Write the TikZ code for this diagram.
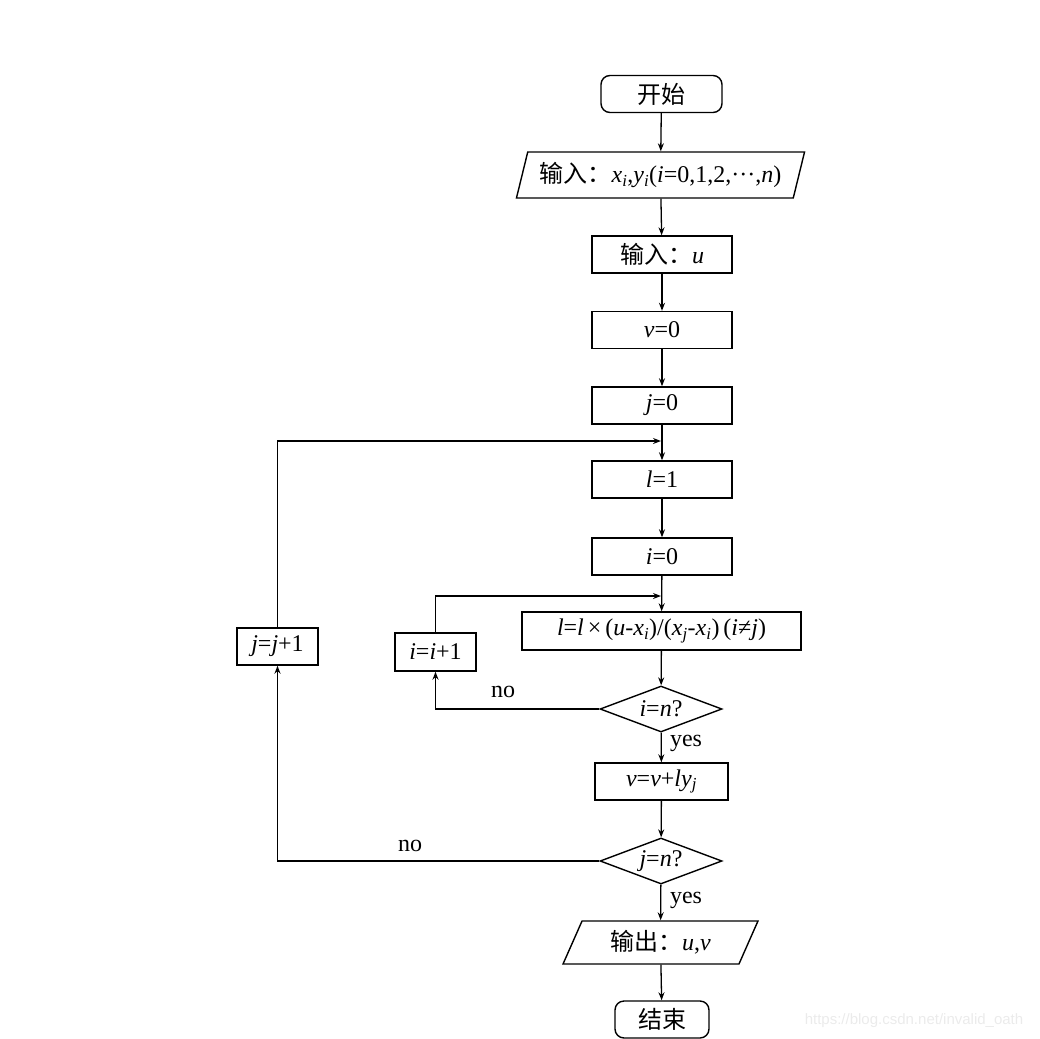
\documentclass[tikz,border=0pt]{standalone}
\usepackage{fontspec}
\setmainfont{Liberation Serif}
\newfontfamily\cjk{Noto Sans CJK SC}
\newfontfamily\wmfont{Liberation Sans}
\usetikzlibrary{shapes.geometric,arrows.meta}
\newcommand{\iv}[1]{\textit{#1}}
\begin{document}
\begin{tikzpicture}[x=1pt,y=-1pt,
  every node/.style={font=\fontsize{24}{26}\selectfont, inner sep=0pt, line width=1.4pt},
  box/.style={draw, rectangle, minimum width=140pt, minimum height=37pt},
  term/.style={draw, rectangle, rounded corners=9pt, minimum height=37pt},
  io/.style={draw, trapezium, trapezium stretches=true},
  dec/.style={draw, diamond, aspect=2.65, minimum width=122pt, minimum height=46pt},
  conn/.style={line width=1.3pt, -{Stealth[length=8pt,width=6pt]}},
  lab/.style={font=\fontsize{24}{26}\selectfont}]
\useasboundingbox (0,0) rectangle (1039,1039);
\node[term, minimum width=121pt] (start) at (661.5,94) {\cjk 开始};
\node[io, trapezium left angle=68, trapezium right angle=112, minimum width=289pt, minimum height=46pt] (in1) at (660.5,175) {\cjk 输入：\rmfamily\iv{x}\textsubscript{\iv{i}},\iv{y}\textsubscript{\iv{i}}(\iv{i}=0,1,2,\textperiodcentered\textperiodcentered\textperiodcentered,\iv{n})};
\node[box] (inu) at (662,254.5) {\cjk 输入：\rmfamily\iv{u}};
\node[box] (v0) at (662,330) {\iv{v}=0};
\node[box] (j0) at (662,405.5) {\iv{j}=0};
\node[box] (l1) at (662,479.5) {\iv{l}=1};
\node[box] (i0) at (662,556.5) {\iv{i}=0};
\node[box, minimum width=279pt, minimum height=38pt] (calc) at (661.5,631) {\iv{l}=\iv{l}\,×\,(\iv{u}-\iv{x}\textsubscript{\iv{i}})/(\iv{x}\textsubscript{\iv{j}}-\iv{x}\textsubscript{\iv{i}})\,(\iv{i}≠\iv{j})};
\node[dec] (d1) at (661,709) {\iv{i}=\iv{n}?};
\node[box, minimum width=133pt] (vv) at (661.5,781.5) {\iv{v}=\iv{v}+\iv{l}\iv{y}\textsubscript{\iv{j}}};
\node[dec] (d2) at (661,861) {\iv{j}=\iv{n}?};
\node[io, trapezium left angle=63, trapezium right angle=117, minimum width=195pt, minimum height=43pt] (out) at (660.5,942.5) {\cjk 输出：\rmfamily\iv{u},\iv{v}};
\node[term, minimum width=94pt] (end) at (662,1019.5) {\cjk 结束};
\node[box, minimum width=81pt] (jj) at (277.5,646.5) {\iv{j}=\iv{j}+1};
\node[box, minimum width=81pt, minimum height=38pt] (ii) at (435.5,652) {\iv{i}=\iv{i}+1};
\coordinate (ja) at (661,441);
\coordinate (ia) at (661,596);
\draw[conn] (start) -- (in1);
\draw[conn] (in1) -- (inu);
\draw[conn] (inu) -- (v0);
\draw[conn] (v0) -- (j0);
\draw[conn] (j0) -- (l1);
\draw[conn] (l1) -- (i0);
\draw[conn] (i0) -- (calc);
\draw[conn] (calc) -- (d1);
\draw[conn] (d1) -- (vv);
\draw[conn] (vv) -- (d2);
\draw[conn] (d2) -- (out);
\draw[conn] (out) -- (end);
\draw[conn] (d1.west) -| (ii.south);
\draw[conn] (d2.west) -| (jj.south);
\draw[conn] (ii.north) |- (ia);
\draw[conn] (jj.north) |- (ja);
\node[lab] (no1) at (503,692) {no};
\node[lab] (no2) at (410,846) {no};
\node[lab] (yes1) at (686,743) {yes};
\node[lab] (yes2) at (686,900) {yes};
\node[text=black!8, font=\wmfont\fontsize{15}{17}\selectfont] (wm) at (914,1021) {https://blog.csdn.net/invalid\_oath};
\end{tikzpicture}
\end{document}
